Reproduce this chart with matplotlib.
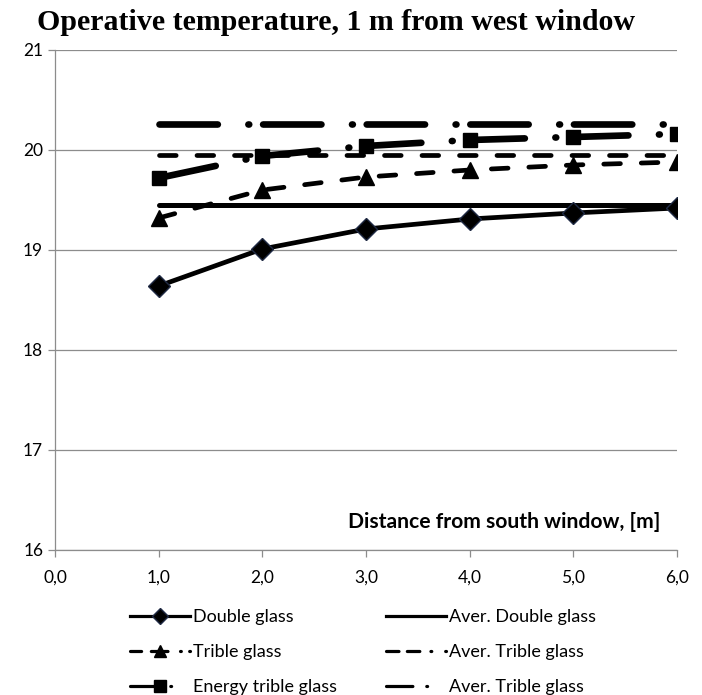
import matplotlib.pyplot as plt
from matplotlib.lines import Line2D

plt.rcParams['lines.scale_dashes'] = False

# distance from south window [m]
distance = [1.0, 2.0, 3.0, 4.0, 5.0, 6.0]

double_glass = [18.64, 19.01, 19.21, 19.31, 19.37, 19.42]
trible_glass = [19.32, 19.60, 19.73, 19.80, 19.85, 19.88]
energy_trible = [19.72, 19.94, 20.04, 20.10, 20.13, 20.16]

aver_double = [19.45] * 6
aver_trible = [19.95] * 6
aver_energy = [20.26] * 6

x_ticks = [0, 1, 2, 3, 4, 5, 6]
x_ticklabels = ["0,0", "1,0", "2,0", "3,0", "4,0", "5,0", "6,0"]
y_ticks = [16, 17, 18, 19, 20, 21]

ui_font = "Lato"
grey = "#8c8c8c"

fig = plt.figure(figsize=(7.02, 6.95), dpi=100)
ax = fig.add_axes([55 / 702, 1 - 550 / 695, 622 / 702, 500 / 695])

long_dash_dot = (0, (42, 22, 0.6, 10))
short_dash = (0, (12, 15))

# averages first, so the measured series sit on top
ax.plot(distance, aver_double, color="black", lw=3.6,
        solid_capstyle="round", zorder=2)
ax.plot(distance, aver_trible, color="black", lw=3.4, linestyle=short_dash,
        dash_capstyle="round", zorder=2)
ax.plot(distance, aver_energy, color="black", lw=4.8, linestyle=long_dash_dot,
        dash_capstyle="round", zorder=2)

ax.plot(distance, double_glass, color="black", lw=3.4, marker="D", ms=11,
        markeredgecolor="#1f2a44", zorder=3)
ax.plot(distance, trible_glass, color="black", lw=3.4, linestyle=short_dash,
        dash_capstyle="round", marker="^", ms=11, zorder=3)
ax.plot(distance, energy_trible, color="black", lw=4.8, linestyle=long_dash_dot,
        dash_capstyle="round", marker="s", ms=10, zorder=3)

ax.set_xlim(0, 6)
ax.set_ylim(16, 21)
ax.set_xticks(x_ticks)
ax.set_xticklabels(x_ticklabels)
ax.set_yticks(y_ticks)
ax.grid(axis="y", color=grey, lw=0.9)
ax.set_axisbelow(True)
for side in ["top", "right"]:
    ax.spines[side].set_visible(False)
for side in ["left", "bottom"]:
    ax.spines[side].set_color(grey)
    ax.spines[side].set_linewidth(0.9)
ax.tick_params(axis="both", colors=grey, labelcolor="black", direction="out",
               length=5, width=0.9, labelsize=12.5)
ax.tick_params(axis="x", pad=9)
for lbl in ax.get_xticklabels() + ax.get_yticklabels():
    lbl.set_fontfamily(ui_font)

fig.text(37 / 702, 1 - 22 / 695, "Operative temperature, 1 m from west window",
         fontfamily="Liberation Serif", fontweight="bold", fontsize=21.5,
         va="center", ha="left")

fig.text(660 / 702, 1 - 522 / 695, "Distance from south window, [m]",
         fontfamily=ui_font, fontweight="bold", fontsize=15.2,
         ha="right", va="center")

# legend keys drawn thinner, like the spreadsheet legend
leg_kw = dict(color="black", lw=2.3, dash_capstyle="round")
handles = [
    Line2D([], [], marker="D", ms=8, markeredgecolor="#1f2a44", **leg_kw),
    Line2D([], [], linestyle=(0, (8, 7, 12, 9, 0.6, 6)), marker="^", ms=9, **leg_kw),
    Line2D([], [], linestyle=(0, (20, 9, 0.6, 20)), marker="s", ms=8, **leg_kw),
    Line2D([], [], **leg_kw),
    Line2D([], [], linestyle=(0, (9, 6, 9, 8, 0.6, 10)), **leg_kw),
    Line2D([], [], linestyle=(0, (19, 10, 0.6, 20)), **leg_kw),
]
labels = ["Double glass", "Trible glass", "Energy trible glass",
          "Aver. Double glass", "Aver. Trible glass", "Aver. Trible glass"]
fig.legend(handles, labels, ncol=2,
           loc="upper left", bbox_to_anchor=(130 / 702, 1 - 609 / 695),
           frameon=False, borderpad=0, borderaxespad=0,
           handlelength=3.3, handletextpad=0.2, columnspacing=2.7,
           labelspacing=1.05, prop={"family": ui_font, "size": 13})

fig.savefig("out.png", dpi=100)
